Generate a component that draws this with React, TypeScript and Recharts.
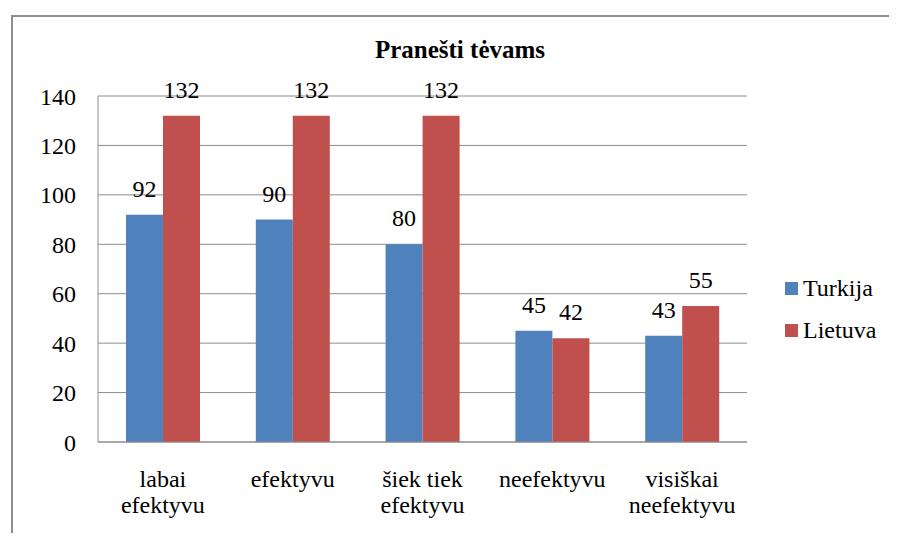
import { BarChart, Bar, XAxis, YAxis, CartesianGrid, Legend, LabelList } from 'recharts';

const categories = ['labai efektyvu', 'efektyvu', 'šiek tiek efektyvu', 'neefektyvu', 'visiškai neefektyvu'];
const categoryLines = [['labai', 'efektyvu'], ['efektyvu'], ['šiek tiek', 'efektyvu'], ['neefektyvu'], ['visiškai', 'neefektyvu']];
const turkija = [92, 90, 80, 45, 43];
const lietuva = [132, 132, 132, 42, 55];
const yTicks = [0, 20, 40, 60, 80, 100, 120, 140];

const FONT = '"Liberation Serif", Tinos, "Times New Roman"';
const BLUE = '#4F81BD';
const RED = '#C0504D';
const GRID = '#8c8c8c';

const data = categories.map((name, i) => ({
  name,
  Turkija: turkija[i],
  Lietuva: lietuva[i],
}));

// two-line category labels like the Excel original
function CategoryTick(props: any) {
  const { x, y, index } = props;
  const lines = categoryLines[index] || [];
  return (
    <text x={x} y={y} textAnchor="middle" fontSize={24} fill="#000">
      {lines.map((line, i) => (
        <tspan key={i} x={x} dy={i === 0 ? 37 : 26}>
          {line}
        </tspan>
      ))}
    </text>
  );
}

function LegendBox() {
  const items = [
    { label: 'Turkija', color: BLUE },
    { label: 'Lietuva', color: RED },
  ];
  return (
    <div style={{ fontSize: 24, color: '#000' }}>
      {items.map((it) => (
        <div key={it.label} style={{ height: 42, display: 'flex', alignItems: 'center' }}>
          <span style={{ width: 13, height: 13, background: it.color, marginRight: 5, display: 'inline-block' }} />
          <span>{it.label}</span>
        </div>
      ))}
    </div>
  );
}

export default function App() {
  return (
    <div style={{ position: 'relative', width: 881, height: 525, overflow: 'hidden', background: '#fff' }}>
      <style>{`#root, #root * { font-family: ${FONT} !important; }`}</style>
      {/* chart frame, runs off the right and bottom edges */}
      <div
        style={{
          position: 'absolute',
          left: 3,
          top: 7,
          width: 1000,
          height: 1000,
          border: '2px solid #8e8e8e',
          boxSizing: 'border-box',
        }}
      />
      <div
        style={{
          position: 'absolute',
          left: 252,
          width: 400,
          top: 29,
          textAlign: 'center',
          fontWeight: 'bold',
          fontSize: 25,
          lineHeight: '25px',
          color: '#000',
        }}
      >
        Pranešti tėvams
      </div>
      <BarChart
        width={881}
        height={525}
        data={data}
        margin={{ top: 88, right: 142, left: 0, bottom: 0 }}
        barSize={37}
        barGap={0}
        style={{ position: 'absolute', left: 0, top: 0 }}
      >
        <CartesianGrid vertical={false} stroke={GRID} strokeWidth={1} />
        <XAxis
          dataKey="name"
          height={91}
          tickLine={false}
          axisLine={{ stroke: GRID }}
          tick={<CategoryTick />}
          interval={0}
        />
        <YAxis
          width={90}
          domain={[0, 140]}
          ticks={yTicks}
          tickLine={false}
          axisLine={{ stroke: GRID }}
          tickMargin={16}
          tick={{ fontSize: 24, fill: '#000' }}
        />
        <Legend
          align="center"
          verticalAlign="middle"
          content={<LegendBox />}
          wrapperStyle={{ left: 777, top: 259, width: 120 }}
        />
        <Bar dataKey="Turkija" fill={BLUE} isAnimationActive={false}>
          <LabelList dataKey="Turkija" position="top" offset={18} fontSize={24} fill="#000" />
        </Bar>
        <Bar dataKey="Lietuva" fill={RED} isAnimationActive={false}>
          <LabelList dataKey="Lietuva" position="top" offset={18} fontSize={24} fill="#000" />
        </Bar>
      </BarChart>
    </div>
  );
}
